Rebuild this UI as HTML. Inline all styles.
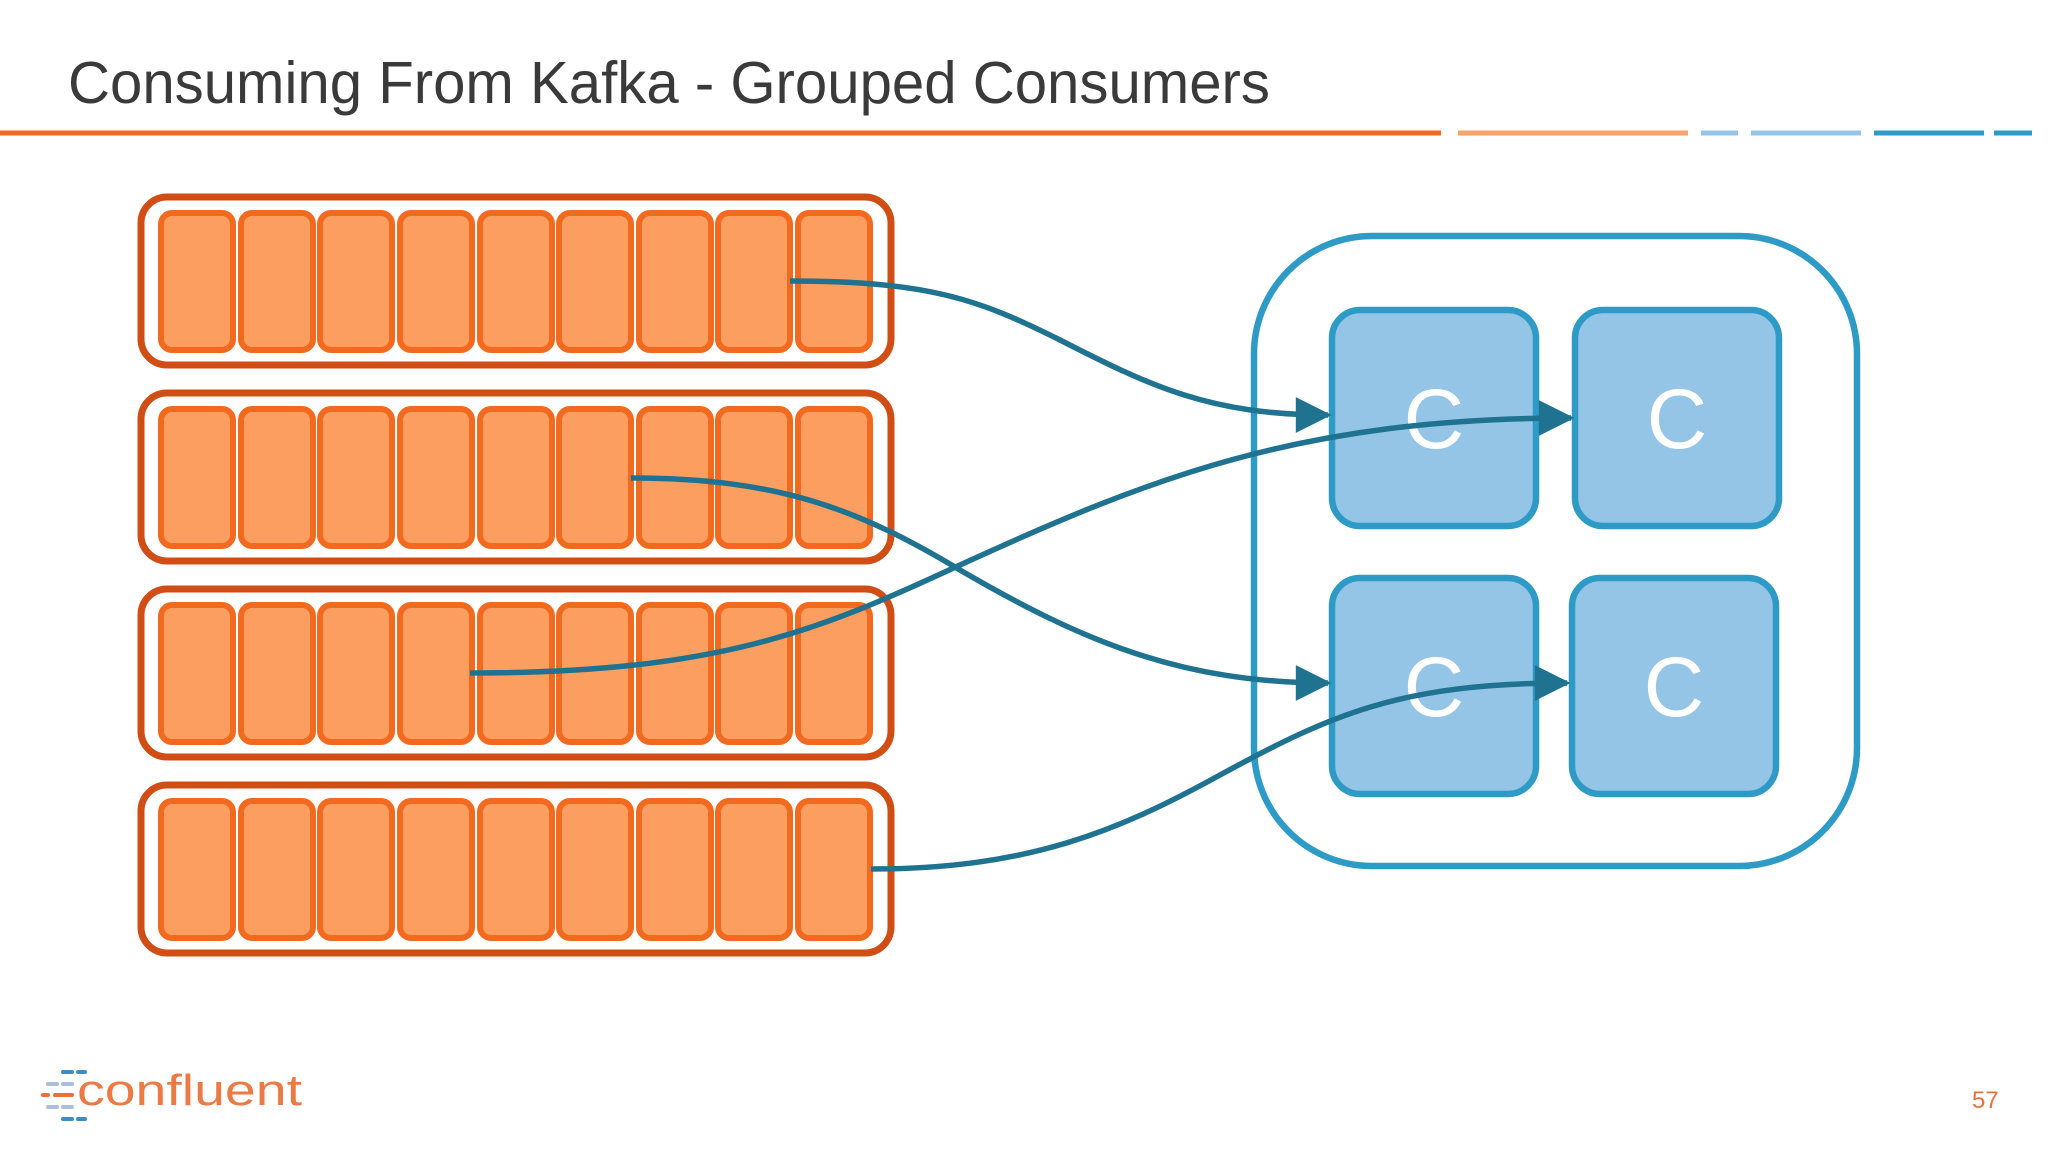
<!DOCTYPE html>
<html><head><meta charset="utf-8"><style>
html,body{margin:0;padding:0;background:#fff;}
svg{display:block;}
text{font-family:"Liberation Sans",sans-serif;}
</style></head><body>
<svg width="2048" height="1152" viewBox="0 0 2048 1152" xmlns="http://www.w3.org/2000/svg">
<defs>
<marker id="ah" viewBox="0 0 10 10" refX="9" refY="5" markerWidth="7.5" markerHeight="6.5" markerUnits="strokeWidth" orient="auto">
<path d="M0,0 L10,5 L0,10 z" fill="#1f7391"/>
</marker>
<g id="row">
<rect x="141" y="0" width="750" height="168" rx="26" fill="#fff" stroke="#d04e16" stroke-width="7"/>
<g fill="#fb9e5f" stroke="#f26a1f" stroke-width="6">
<rect x="161" y="16" width="72" height="137" rx="11"/>
<rect x="241" y="16" width="72" height="137" rx="11"/>
<rect x="320" y="16" width="72" height="137" rx="11"/>
<rect x="400" y="16" width="72" height="137" rx="11"/>
<rect x="480" y="16" width="72" height="137" rx="11"/>
<rect x="559" y="16" width="72" height="137" rx="11"/>
<rect x="639" y="16" width="72" height="137" rx="11"/>
<rect x="718" y="16" width="72" height="137" rx="11"/>
<rect x="798" y="16" width="72" height="137" rx="11"/>
</g>
</g>
</defs>
<text x="68" y="103" font-size="59" fill="#3a3a3a" textLength="1202" lengthAdjust="spacingAndGlyphs">Consuming From Kafka - Grouped Consumers</text>
<g stroke-width="5">
<line x1="0" y1="133" x2="1441" y2="133" stroke="#f26a1f"/>
<line x1="1458" y1="133" x2="1688" y2="133" stroke="#f9a36d"/>
<line x1="1701" y1="133" x2="1738" y2="133" stroke="#94c4e6"/>
<line x1="1751" y1="133" x2="1861" y2="133" stroke="#94c4e6"/>
<line x1="1874" y1="133" x2="1984" y2="133" stroke="#2e9bc6"/>
<line x1="1994" y1="133" x2="2032" y2="133" stroke="#2e9bc6"/>
</g>
<use href="#row" y="197"/>
<use href="#row" y="393"/>
<use href="#row" y="589"/>
<use href="#row" y="785"/>
<rect x="1254" y="236" width="603" height="630" rx="118" fill="none" stroke="#2e9bc6" stroke-width="6.5"/>
<g fill="#94c4e6" stroke="#2e9bc6" stroke-width="6.5">
<rect x="1332" y="310" width="204" height="216" rx="28"/>
<rect x="1575" y="310" width="204" height="216" rx="28"/>
<rect x="1332" y="578" width="204" height="216" rx="28"/>
<rect x="1572" y="578" width="204" height="216" rx="28"/>
</g>
<g font-size="84" fill="#fff" text-anchor="middle">
<text x="1434" y="448">C</text>
<text x="1677" y="448">C</text>
<text x="1434" y="716">C</text>
<text x="1674" y="716">C</text>
</g>
<g fill="none" stroke="#1f7391" stroke-width="5.5" marker-end="url(#ah)">
<path d="M790,281 C930,281 980,300 1060,340 C1150,386 1210,415 1328,415"/>
<path d="M631,478 C780,478 860,510 960,570 C1080,640 1180,683 1328,683"/>
<path d="M470,673 C720,673 820,630 960,565 C1150,478 1300,418 1571,418"/>
<path d="M871,869 C1030,869 1120,830 1220,775 C1330,715 1400,683 1567,683"/>
</g>
<g stroke-width="4" stroke-linecap="round">
<line x1="63" y1="1072" x2="72" y2="1072" stroke="#3c8cc6"/>
<line x1="78" y1="1072" x2="85" y2="1072" stroke="#3c8cc6"/>
<line x1="48" y1="1084" x2="57" y2="1084" stroke="#a9bfdc"/>
<line x1="63" y1="1084" x2="72" y2="1084" stroke="#a9bfdc"/>
<line x1="43" y1="1095" x2="48" y2="1095" stroke="#e8733a"/>
<line x1="55" y1="1095" x2="72" y2="1095" stroke="#e8733a"/>
<line x1="48" y1="1107" x2="57" y2="1107" stroke="#a9bfdc"/>
<line x1="63" y1="1107" x2="72" y2="1107" stroke="#a9bfdc"/>
<line x1="63" y1="1119" x2="72" y2="1119" stroke="#3c8cc6"/>
<line x1="78" y1="1119" x2="85" y2="1119" stroke="#3c8cc6"/>
</g>
<text x="77" y="1105" font-size="44" fill="#ec7a45" textLength="225" lengthAdjust="spacingAndGlyphs">confluent</text>
<text x="1972" y="1108" font-size="24" fill="#e8733a">57</text>
</svg>
</body></html>
